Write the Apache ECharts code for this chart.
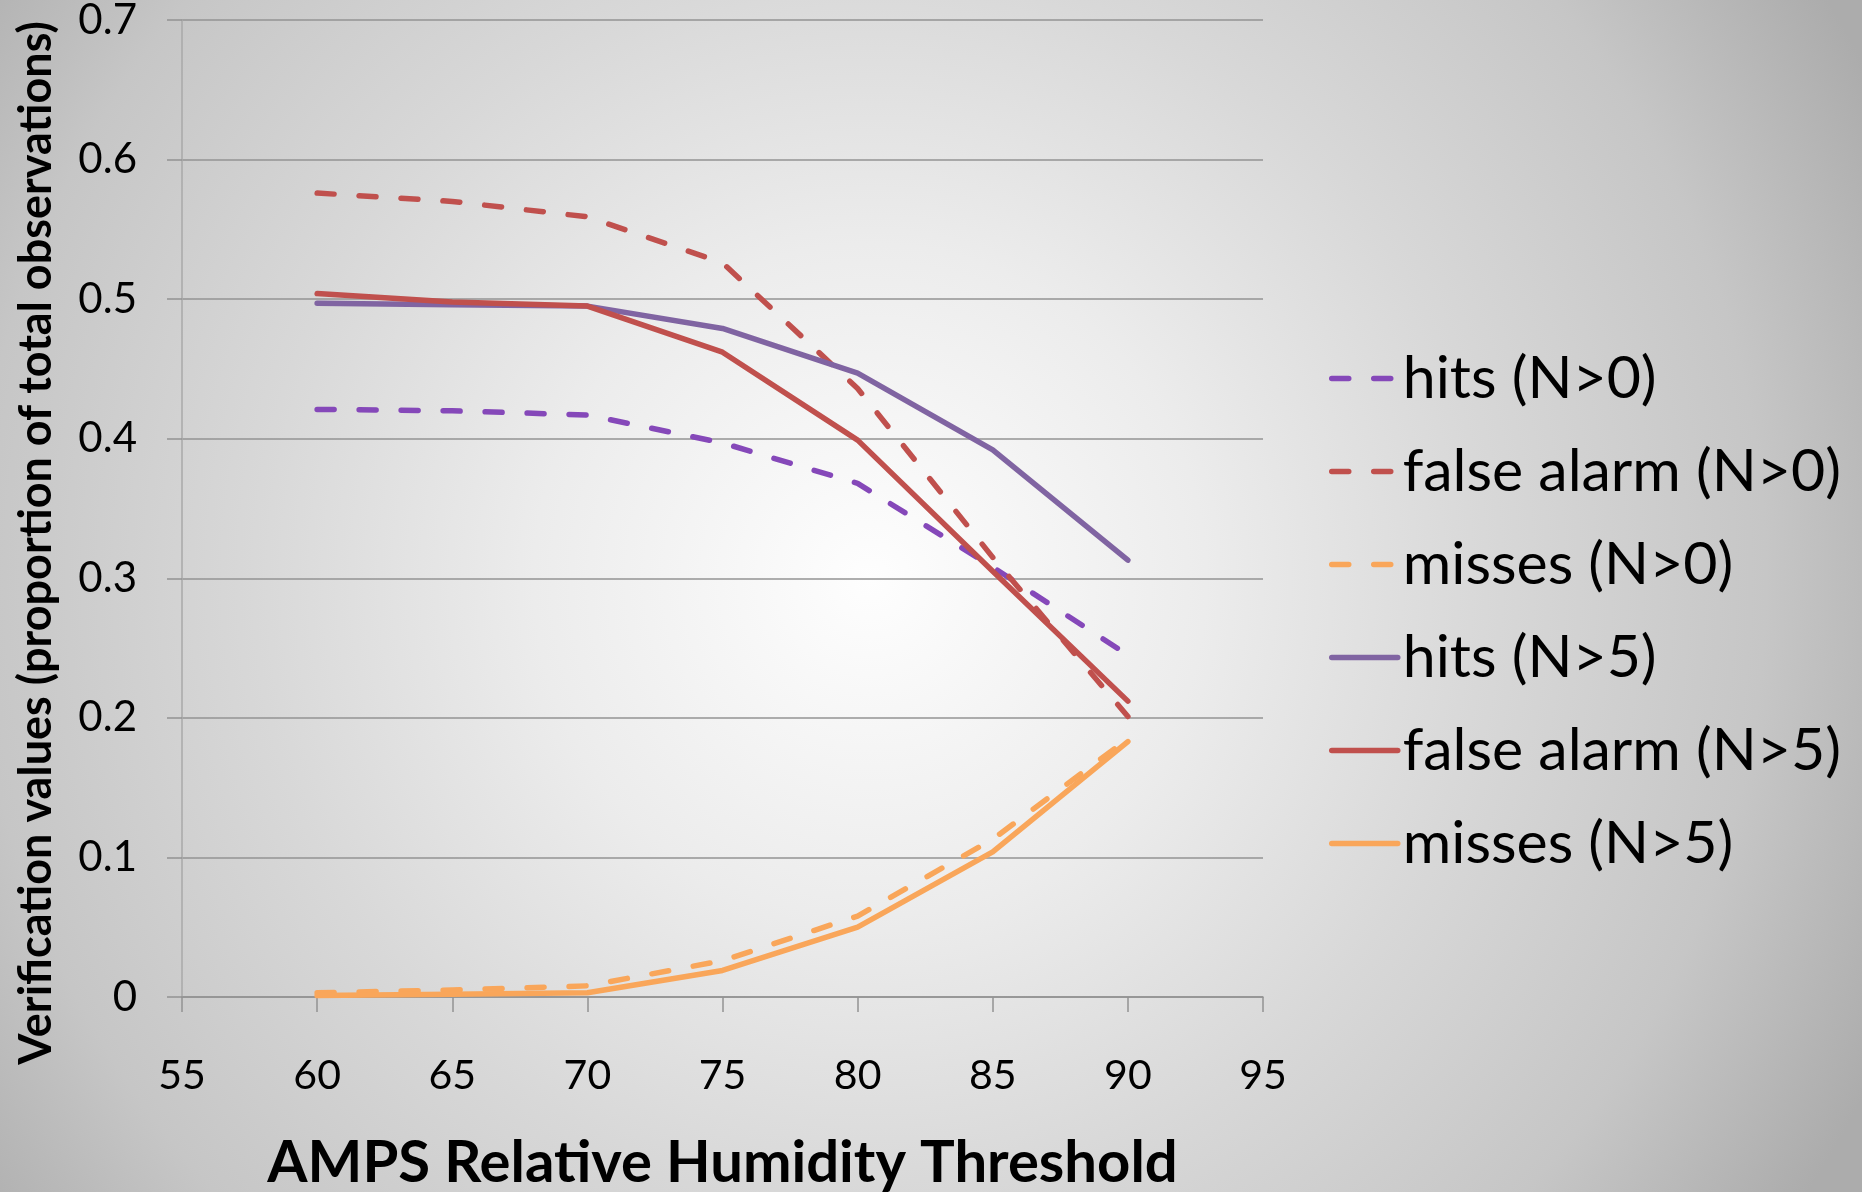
<!DOCTYPE html>
<html>
<head>
<meta charset="utf-8">
<title>AMPS Relative Humidity Threshold verification</title>
<script src="https://cdn.jsdelivr.net/npm/echarts@6/dist/echarts.min.js"></script>
<style>
  html, body { margin: 0; padding: 0; }
  #chart { width: 1862px; height: 1192px; }
</style>
</head>
<body>
<div id="chart"></div>
<script>
// RH thresholds (x values)
const thresholds = [60, 65, 70, 75, 80, 85, 90];

// Verification values, proportion of total observations
const hitsN0        = [0.421, 0.420, 0.417, 0.397, 0.368, 0.308, 0.245];
const falseAlarmN0  = [0.576, 0.570, 0.559, 0.526, 0.436, 0.315, 0.201];
const missesN0      = [0.003, 0.005, 0.008, 0.026, 0.058, 0.113, 0.185];
const hitsN5        = [0.497, 0.496, 0.495, 0.479, 0.447, 0.392, 0.313];
const falseAlarmN5  = [0.504, 0.498, 0.495, 0.462, 0.399, 0.305, 0.212];
const missesN5      = [0.001, 0.002, 0.003, 0.019, 0.050, 0.104, 0.183];

const seriesNames = [
  'hits (N>0)', 'false alarm (N>0)', 'misses (N>0)',
  'hits (N>5)', 'false alarm (N>5)', 'misses (N>5)'
];
const seriesValues = [hitsN0, falseAlarmN0, missesN0, hitsN5, falseAlarmN5, missesN5];
const seriesColors = ['#8548b9', '#c0504d', '#f9a65a', '#8064a2', '#c0504d', '#f9a65a'];
const seriesDashed = [true, true, true, false, false, false];

const xTitle = 'AMPS Relative Humidity Threshold';
const yTitle = 'Verification values (proportion of total observations)';

const FONT = 'Lato, "Open Sans", sans-serif';
const GRID_COLOR = '#939393';
const LINE_WIDTH = 5.5;

const chart = echarts.init(document.getElementById('chart'), null, { renderer: 'canvas' });

const series = seriesNames.map((name, i) => ({
  name: name,
  type: 'line',
  symbol: 'none',
  data: thresholds.map((x, k) => [x, seriesValues[i][k]]),
  lineStyle: {
    color: seriesColors[i],
    width: LINE_WIDTH,
    type: seriesDashed[i] ? [17, 25] : 'solid',
    cap: 'round',
    join: 'round'
  },
  itemStyle: { color: seriesColors[i] },
  emphasis: { disabled: true },
  animation: false
}));

chart.setOption({
  animation: false,
  graphic: [
    {
      type: 'rect',
      z: -100,
      silent: true,
      shape: { x: 0, y: 0, width: 1862, height: 1192 },
      style: {
        fill: {
          type: 'radial', x: 870, y: 580, r: 1120, global: true,
          colorStops: [
            { offset: 0.0, color: '#fefefe' },
            { offset: 0.3, color: '#ececec' },
            { offset: 0.55, color: '#d8d8d8' },
            { offset: 0.8, color: '#c6c6c6' },
            { offset: 1.0, color: '#acacac' }
          ]
        }
      }
    },
    {
      type: 'text',
      x: 36, y: 543,
      rotation: Math.PI / 2,
      silent: true,
      style: {
        text: yTitle,
        font: 'bold 45px ' + FONT,
        fill: '#000',
        textAlign: 'center',
        textVerticalAlign: 'middle'
      }
    }
  ],
  grid: {
    left: 182, right: 599, top: 20, bottom: 195,
    containLabel: false,
    outerBoundsMode: 'none'
  },
  legend: {
    orient: 'vertical',
    left: 1324,
    top: 344,
    itemWidth: 66,
    itemHeight: 14,
    itemGap: 34,
    selectedMode: false,
    data: seriesNames,
    itemStyle: { opacity: 0 },
    lineStyle: { width: LINE_WIDTH, cap: 'round' },
    textStyle: { fontFamily: FONT, fontSize: 59, color: '#000', lineHeight: 58 }
  },
  xAxis: {
    type: 'value',
    min: 55, max: 95, interval: 5,
    name: xTitle,
    nameLocation: 'middle',
    nameGap: 137,
    nameTextStyle: { fontFamily: FONT, fontSize: 58, fontWeight: 'bold', color: '#000' },
    axisLine: { show: true, onZero: false, lineStyle: { color: GRID_COLOR, width: 1.5 } },
    axisTick: { show: true, length: 15, lineStyle: { color: GRID_COLOR, width: 1.5 } },
    axisLabel: { fontFamily: FONT, fontSize: 41, color: '#000', margin: 58 },
    splitLine: { show: false }
  },
  yAxis: {
    type: 'value',
    min: 0, max: 0.7, interval: 0.1,
    axisLine: { show: true, lineStyle: { color: '#a9a9a9', width: 1.5 } },
    axisTick: { show: true, length: 15, lineStyle: { color: GRID_COLOR, width: 1.5 } },
    axisLabel: {
      fontFamily: FONT, fontSize: 42, color: '#000', margin: 45,
      padding: [12, 0, 0, 0],
      formatter: v => (Math.round(v * 10) / 10).toString()
    },
    splitLine: { show: true, lineStyle: { color: GRID_COLOR, width: 1.5 } }
  },
  series: series
});
</script>
</body>
</html>
